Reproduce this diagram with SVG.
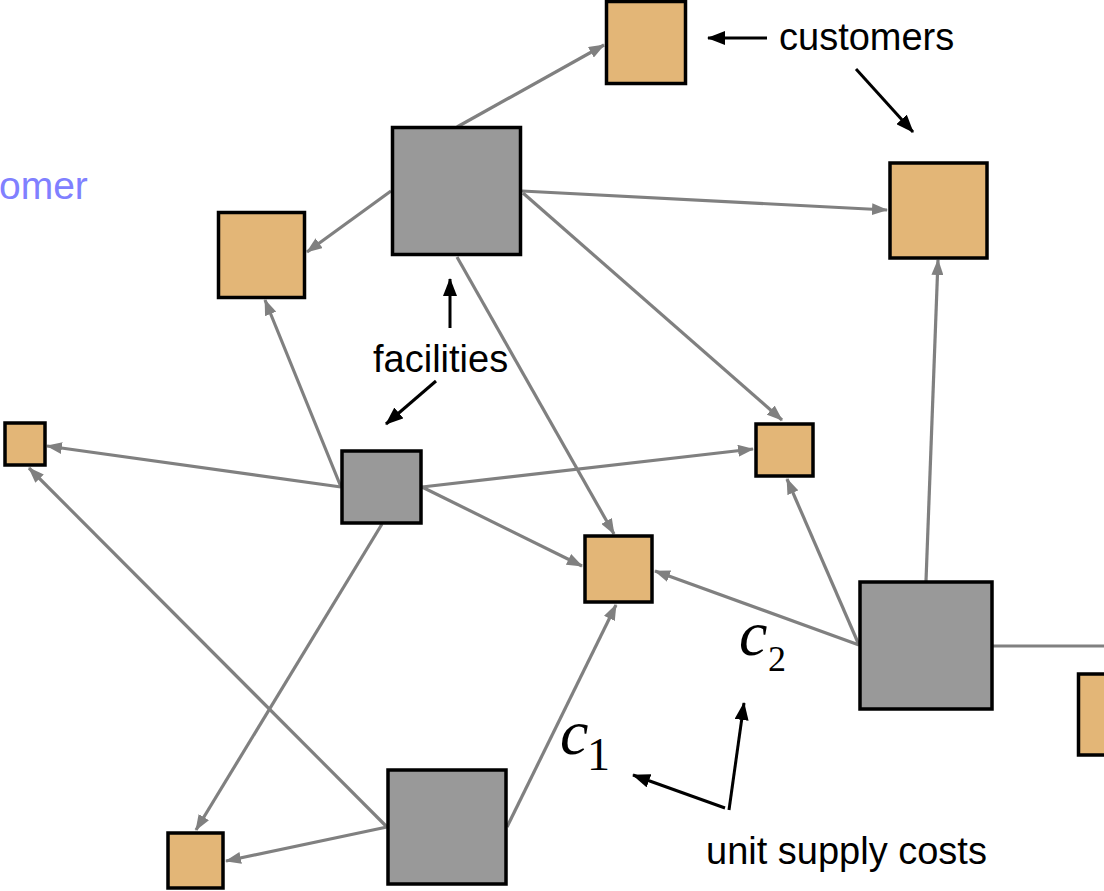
<svg xmlns="http://www.w3.org/2000/svg" width="1104" height="891" viewBox="0 0 1104 891">
<style>
.cust{fill:#E3B677;stroke:#000;stroke-width:3.5}
.fac{fill:#999999;stroke:#000;stroke-width:3.5}
.edge{stroke:#808080;stroke-width:3.2;fill:none;marker-end:url(#ga)}
.ann{stroke:#000;stroke-width:3;fill:none;marker-end:url(#ba)}
.lbl{font-family:"Liberation Sans",Arial,sans-serif;font-size:38px;fill:#000}
.math{font-family:"Liberation Serif","Times New Roman",serif;fill:#000}
</style>
<defs>
<marker id="ga" markerUnits="userSpaceOnUse" markerWidth="16" markerHeight="12" refX="15" refY="6" orient="auto"><path d="M0,0 L16,6 L0,12 z" fill="#808080"/></marker>
<marker id="ba" markerUnits="userSpaceOnUse" markerWidth="18" markerHeight="14" refX="17" refY="7" orient="auto"><path d="M0,0 L18,7 L0,14 z" fill="#000"/></marker>
</defs>
<g id="connectors">
<path class="edge" d="M457,127 L604,45"/>
<path class="edge" d="M391,191 L307,252"/>
<path class="edge" d="M522,191 L887,210"/>
<path class="edge" d="M523,193 L782,420"/>
<path class="edge" d="M457,257 L614,534"/>
<path class="edge" d="M341,487 L265,300"/>
<path class="edge" d="M341,487 L47,446"/>
<path class="edge" d="M422,487 L753,449"/>
<path class="edge" d="M422,487 L582,566"/>
<path class="edge" d="M382,524 L196,830"/>
<path class="edge" d="M387,827 L29,468"/>
<path class="edge" d="M387,827 L226,861"/>
<path class="edge" d="M507,827 L616,605"/>
<path class="edge" d="M859,645 L655,571"/>
<path class="edge" d="M859,645 L787,479"/>
<path class="edge" d="M926,581 L938,260"/>
<path d="M993,646 L1104,646" stroke="#808080" stroke-width="3.2" fill="none"/>
</g>
<g id="C1"><rect class="cust" x="606.5" y="1.5" width="79" height="82"/></g>
<g id="C2"><rect class="cust" x="218.5" y="212.5" width="86" height="85"/></g>
<g id="C3"><rect class="cust" x="890" y="163" width="97" height="95"/></g>
<g id="C4"><rect class="cust" x="5" y="423" width="40" height="42"/></g>
<g id="C5"><rect class="cust" x="756" y="424" width="57" height="52"/></g>
<g id="C6"><rect class="cust" x="585" y="536" width="67" height="66"/></g>
<g id="C7"><rect class="cust" x="1078.5" y="674" width="40" height="81"/></g>
<g id="C8"><rect class="cust" x="168" y="833" width="55" height="55"/></g>
<g id="F1"><rect class="fac" x="392.5" y="127.5" width="128" height="127"/></g>
<g id="F2"><rect class="fac" x="342" y="451" width="79" height="72"/></g>
<g id="F3"><rect class="fac" x="860" y="582" width="132" height="127"/></g>
<g id="F4"><rect class="fac" x="388" y="770" width="118" height="114"/></g>
<g id="annotations">
<text x="-1" y="199" font-family="Liberation Sans,Arial,sans-serif" font-size="39" fill="#8080FF">omer</text>
<text class="lbl" x="779" y="50">customers</text>
<path class="ann" d="M767,38 L708,38"/>
<path class="ann" d="M856,69 L913,132"/>
<text class="lbl" x="373" y="372">facilities</text>
<path class="ann" d="M450,328 L450,279"/>
<path class="ann" d="M436,381 L386,424"/>
<text class="lbl" x="706" y="864">unit supply costs</text>
<path class="ann" d="M729,810 L744,703"/>
<path class="ann" d="M725,808 L633,775"/>
<text class="math" x="560" y="754" font-size="64" font-style="italic">c</text>
<text class="math" x="587" y="770" font-size="46">1</text>
<text class="math" x="739" y="655" font-size="64" font-style="italic">c</text>
<text class="math" x="768" y="671" font-size="36">2</text>
</g>
</svg>
